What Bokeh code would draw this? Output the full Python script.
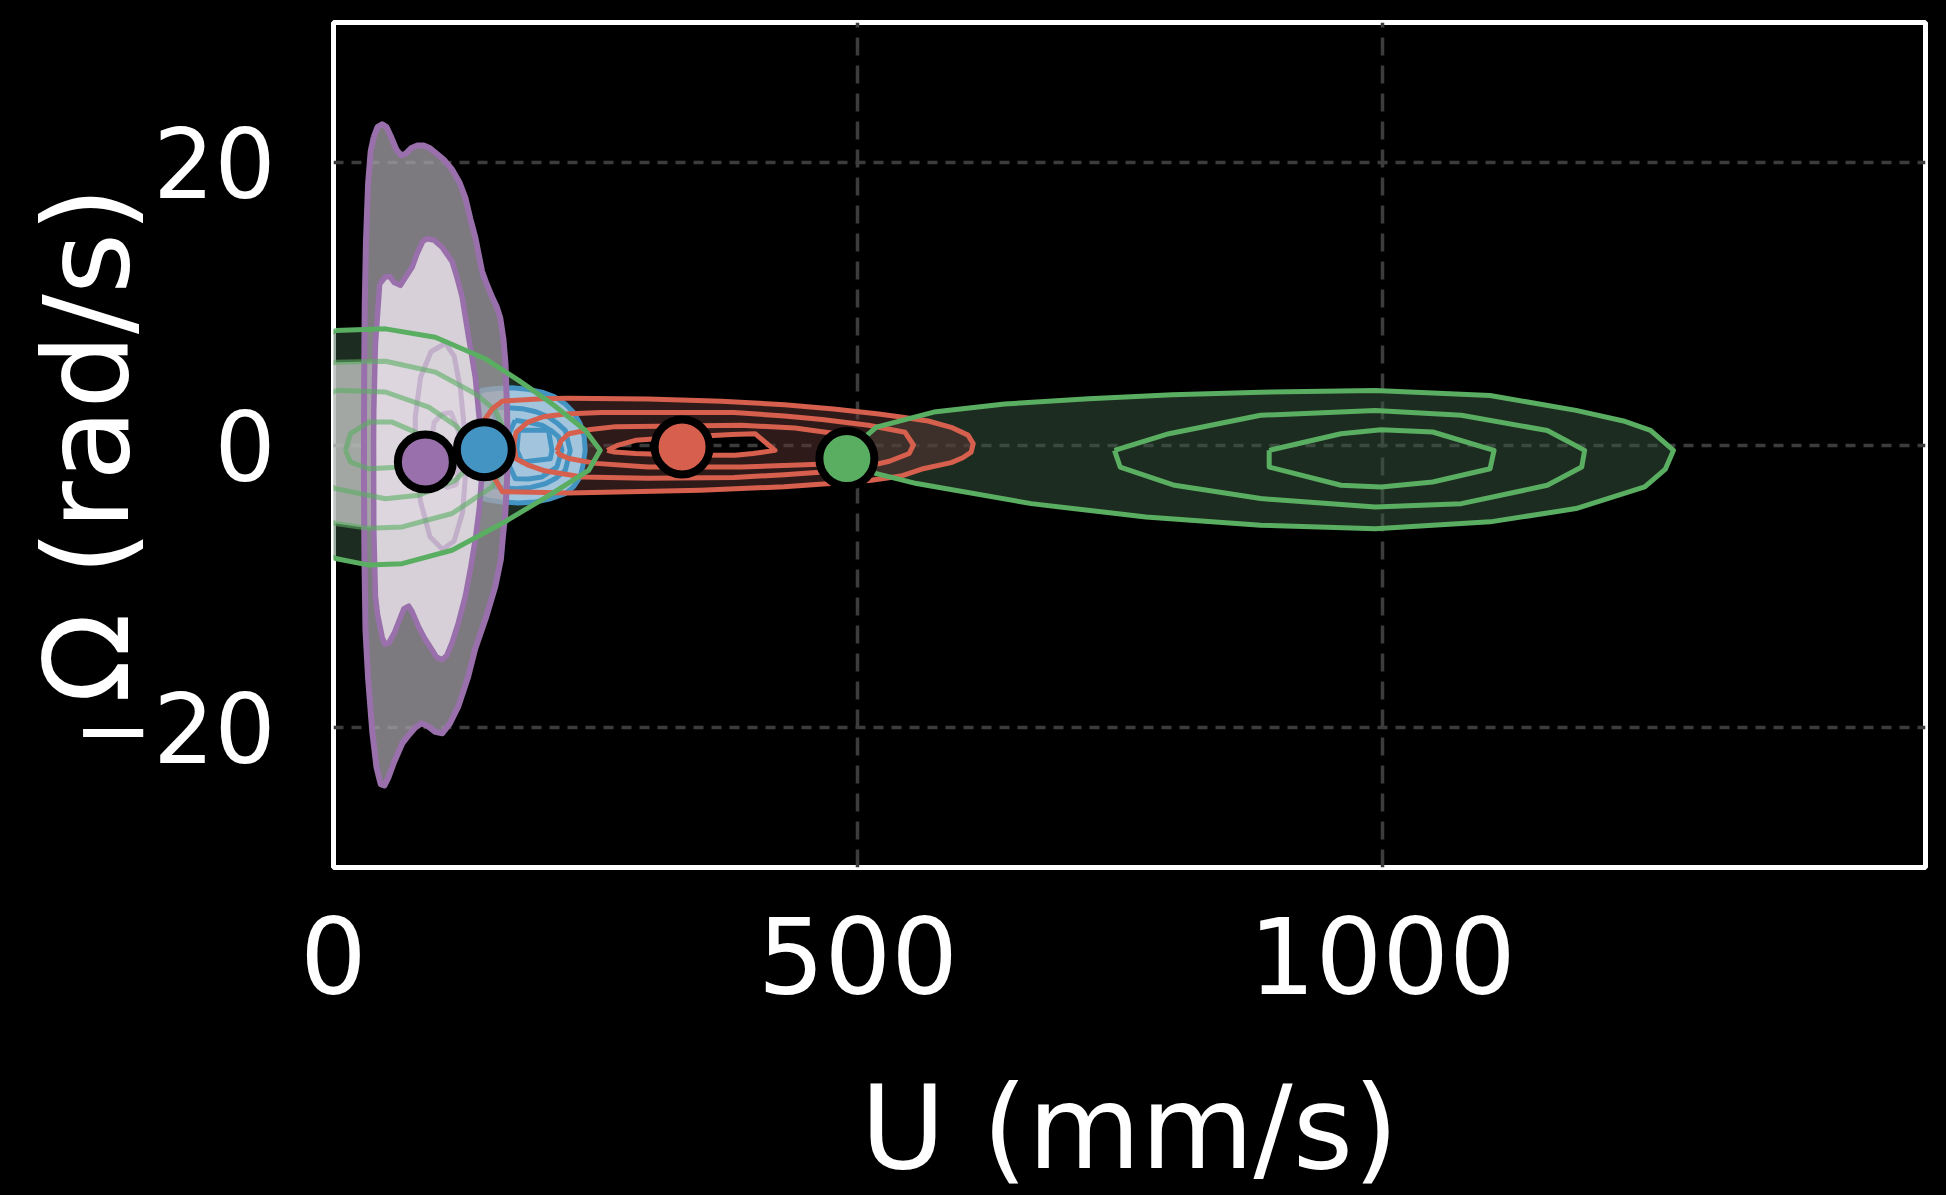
from bokeh.plotting import figure
from bokeh.models import Range1d, FixedTicker
from bokeh.embed import file_html
from bokeh.resources import INLINE

# ---------------- data (U in mm/s, Omega in rad/s) ----------------
x_ticks = [0, 500, 1000]
y_ticks = [-20, 0, 20]
y_tick_labels = {-20: "\u221220", 0: "0", 20: "20"}

# purple group: KDE contour levels
purple_outer_u = [38.4, 42, 46.4, 50.5, 54.3, 60, 64.5, 68.6, 74, 80, 86, 92, 97, 105, 113, 120, 125.7, 130.5, 135.2, 141.6,
                  146, 151, 155.5, 159, 162, 164, 165.5, 166, 165.5, 163.8, 161.5, 159.6, 154.3, 145, 135.2, 128, 119, 111,
                  103.8, 97, 90, 84, 78, 72, 65.7, 58, 52, 48.5, 45, 41, 37, 33, 30.5, 29.5, 29, 29.2, 29.8, 31, 33, 35.5]
purple_outer_omega = [21.8, 22.5, 22.7, 22.5, 21.9, 20.9, 20.5, 20.6, 21.0, 21.2, 21.2, 21.0, 20.7, 20.2, 19.5, 18.6, 17.5,
                      16.0, 14.7, 12.3, 11.4, 10.5, 9.8, 9.0, 7.5, 5.75, 2.5, -0.3, -2.5, -4.85, -6.5, -8.1, -10.0, -12.3,
                      -14.4, -16.5, -18.5, -19.7, -20.4, -20.3, -19.9, -19.7, -20.0, -20.5, -21.1, -22.4, -23.6, -24.1,
                      -24.0, -22.8, -20.3, -16.5, -13.1, -8, -2, 4, 10, 14.5, 18.5, 20.8]
purple_inner_u = [44, 49.5, 54, 58, 63.8, 69, 75, 80, 85, 89.2, 96, 103.5, 113, 118, 122.6, 128.9, 135.2, 139.5, 141.6, 139,
                  135.2, 131, 125.7, 119, 113, 108, 103.5, 98, 94, 87, 81.3, 75, 71.7, 67, 63.8, 58, 52.7, 49, 46.4, 42,
                  40, 38.4, 38.2, 38.4, 40, 43.2]
purple_inner_omega = [11.4, 11.9, 11.9, 11.5, 11.3, 11.9, 12.6, 13.6, 14.4, 14.6, 14.5, 14.0, 13.0, 11.8, 10.5, 7.6, 4.8,
                      1.5, -2.0, -4.5, -6.7, -8.6, -10.7, -12.6, -14.0, -14.9, -15.2, -15.0, -14.5, -13.7, -12.9, -11.8,
                      -11.4, -11.6, -12.2, -13.3, -14.0, -14.1, -13.6, -12.0, -10.7, -6.0, 0.0, 2.45, 7.2, 10.5]
purple_core_u = [106.7, 115, 121, 125, 126, 123, 115, 104, 92, 83, 78, 78, 83, 93]
purple_core_omega = [7.2, 6.3, 4.0, 1.0, -2.0, -4.8, -6.8, -7.4, -6.5, -4.0, -1.0, 2.0, 4.8, 6.6]
purple_peak_u = [103.5, 112, 119, 121, 117, 108, 98, 93, 96]
purple_peak_omega = [2.2, 2.3, 1.0, -1.0, -2.8, -3.0, -2.0, 0.0, 1.6]

# blue group
blue_l1_u = [136.8, 141.6, 155, 170.2, 185, 198.7, 211, 221, 229, 235.2, 239, 240, 238, 235.2, 229, 221, 207, 192.4, 176,
             160.6, 148, 138.4, 135.2, 134.5, 135.2]
blue_l1_omega = [3.4, 3.87, 4.0, 4.05, 3.95, 3.74, 3.4, 2.9, 2.3, 1.5, 0.6, -0.38, -1.4, -2.26, -2.95, -3.44, -3.8, -4.03,
                 -4.1, -4.03, -3.9, -3.68, -1.8, 0.1, 1.98]
blue_l2_u = [151.1, 165, 179.7, 193, 205.1, 214, 221, 225.7, 221, 212, 201.9, 188, 173.3, 154.3, 160, 158]
blue_l2_omega = [2.68, 2.65, 2.57, 2.35, 1.98, 1.5, 1.03, -0.38, -1.8, -2.35, -2.74, -3.0, -3.09, -2.97, -1.0, 1.0]
blue_l3_u = [173.3, 186, 198.7, 208, 214.6, 217.8, 213, 198.7, 186, 173.3, 166, 166]
blue_l3_omega = [1.75, 1.6, 1.4, 1.0, 0.57, -0.38, -1.56, -2.26, -2.4, -2.38, -1.2, 0.6]
blue_l4_u = [176.5, 205, 208.3, 206.7, 179.7, 174.9]
blue_l4_omega = [1.04, 1.04, -0.38, -0.97, -1.2, -0.38]

# red group
red_l1_u = [132, 136, 140, 145, 152, 161, 199, 223, 300, 370, 430, 477, 520, 541, 567, 589, 605, 610, 608, 600, 589, 561,
            541, 513, 477, 430, 350, 224, 161, 154, 145, 137]
red_l1_omega = [0.0, 0.9, 1.4, 1.9, 2.6, 3.1, 3.28, 3.3, 3.25, 3.1, 2.85, 2.55, 2.2, 1.98, 1.7, 1.25, 0.7, 0.1, -0.5, -0.9,
                -1.25, -1.7, -2.2, -2.5, -2.7, -2.95, -3.2, -3.4, -3.3, -2.4, -1.7, -0.9]
red_l2_u = [172, 174, 185, 200, 221, 255, 382, 430, 466, 510, 545, 553, 549, 530, 513, 477, 430, 382, 300, 237, 200, 185, 174]
red_l2_omega = [0.0, 0.9, 1.6, 2.0, 2.2, 2.3, 2.3, 2.05, 1.8, 1.4, 0.9, 0.0, -0.6, -1.15, -1.44, -1.85, -2.1, -2.3, -2.35,
                -2.26, -1.8, -1.4, -0.97]
red_l3_u = [213, 217, 224.5, 245, 269, 389, 440, 480, 498, 495, 470, 389, 300, 250, 224.5, 216]
red_l3_omega = [-0.4, 0.3, 0.8, 1.1, 1.3, 1.4, 1.2, 0.8, 0.0, -0.9, -1.35, -1.56, -1.56, -1.3, -0.95, -0.7]
red_l4_u = [261, 270, 288, 330, 380, 402, 421, 400, 383, 330, 288, 268]
red_l4_omega = [-0.38, -0.05, 0.33, 0.55, 0.75, 0.8, -0.38, -0.6, -0.73, -0.7, -0.6, -0.5]

# green group (two lobes)
green_left_l1_u = [1.9, 49.5, 97.1, 144.8, 176.5, 208.3, 240, 254.3, 243.2, 208.3, 160.6, 113, 65.4, 33.7, 1.9, -30, -50, -55, -50, -30]
green_left_l1_omega = [8.1, 8.22, 7.63, 6.1, 4.57, 2.92, 1.04, -0.38, -1.8, -3.44, -5.56, -7.45, -8.4, -8.5, -8.03, -7.0, -3.0, 0.0, 3.0, 7.0]
green_left_l2_u = [1.9, 49.5, 97.1, 135.2, 154.3, 162, 165, 160, 151.1, 113, 65.4, 33.7, 1.9, -30, -40, -30]
green_left_l2_omega = [5.86, 5.93, 5.16, 3.63, 2.45, 1.2, -0.4, -1.8, -2.97, -4.85, -5.8, -5.9, -5.56, -4.5, 0.0, 5.0]
green_left_l3_u = [1.9, 49.5, 90.8, 116.2, 128, 135, 128, 116.2, 81.3, 49.5, 1.9, -25, -30, -25]
green_left_l3_omega = [3.87, 3.75, 2.68, 1.39, 0.5, -0.6, -1.6, -2.5, -3.56, -3.8, -3.09, -2.0, 0.0, 2.5]
green_left_l4_u = [11.4, 16.2, 33.7, 55.9, 78.1, 86, 65.4, 33.7, 16.2]
green_left_l4_omega = [-0.38, 0.8, 1.62, 1.62, 0.91, -0.6, -1.56, -1.68, -1.21]
green_right_l1_u = [490, 517.7, 572.4, 640, 720, 800, 884, 993.3, 1102.8, 1184.8, 1230, 1255.8, 1277.7, 1270, 1250.3,
                    1184.8, 1102.8, 993.3, 884, 774.7, 665.3, 556, 517.7]
green_right_l1_omega = [-0.5, 1.27, 2.33, 2.9, 3.27, 3.55, 3.74, 3.86, 3.5, 2.45, 1.7, 1.03, -0.38, -1.7, -2.97, -4.5,
                        -5.44, -5.92, -5.68, -5.09, -4.15, -2.73, -2.03]
green_right_l2_u = [744.7, 750.1, 802, 884, 993.3, 1075.4, 1157.4, 1190.2, 1193, 1157.4, 1075.4, 993.3, 884, 796.6]
green_right_l2_omega = [-0.38, -1.56, -2.85, -3.79, -4.38, -4.15, -2.85, -1.56, -0.38, 1.03, 2.1, 2.45, 2.1, 0.8]
green_right_l3_u = [892.2, 892.2, 960.6, 998.9, 1048.1, 1102.8, 1106.6, 1048.1, 998.9, 960.6]
green_right_l3_omega = [-0.38, -1.56, -2.85, -2.97, -2.62, -1.68, -0.38, 0.92, 1.08, 0.8]

# group means
mean_u = [87.6, 143.8, 332.4, 489.5]
mean_omega = [-1.2, -0.33, -0.14, -0.96]

# ---------------- styles ----------------
PURPLE, BLUE, RED, GREEN = "#9970ab", "#4393c3", "#d6604d", "#5aae61"
dot_colors = [PURPLE, BLUE, RED, GREEN]
FONT = "DejaVu Sans"
LW = 5


def closed(seq):
    return list(seq) + [seq[0]]


p = figure(frame_width=1592, frame_height=845,
           x_range=Range1d(0, 1518), y_range=Range1d(-29.9, 29.9),
           output_backend="svg", toolbar_location=None, title=None,
           min_border_left=333, min_border_top=22, min_border_right=13, min_border_bottom=300,
           background_fill_color="black", border_fill_color="black",
           outline_line_color="white", outline_line_width=5)

# grid
p.xgrid.ticker = FixedTicker(ticks=x_ticks)
p.ygrid.ticker = FixedTicker(ticks=y_ticks)
for g in (p.xgrid, p.ygrid):
    g.grid_line_color = "#3c3c3c"
    g.grid_line_width = 3.5
p.xgrid.grid_line_dash = "18 10"
p.ygrid.grid_line_dash = "10 8"

# axes
p.xaxis.ticker = FixedTicker(ticks=x_ticks)
p.yaxis.ticker = FixedTicker(ticks=y_ticks)
p.yaxis.major_label_overrides = y_tick_labels
for ax in (p.xaxis, p.yaxis):
    ax.axis_line_color = None
    ax.major_tick_line_color = None
    ax.minor_tick_line_color = None
    ax.major_tick_out = 0
    ax.major_tick_in = 0
    ax.major_label_text_color = "white"
    ax.major_label_text_font = FONT
    ax.axis_label_text_color = "white"
    ax.axis_label_text_font = FONT
    ax.axis_label_text_font_style = "normal"
p.xaxis.axis_label = "U (mm/s)"
p.yaxis.axis_label = "\u03a9 (rad/s)"
p.xaxis.major_label_text_font_size = "105px"
p.yaxis.major_label_text_font_size = "96px"
p.xaxis.axis_label_text_font_size = "116px"
p.yaxis.axis_label_text_font_size = "118px"
p.xaxis.major_label_standoff = 49
p.yaxis.major_label_standoff = 58
p.xaxis.axis_label_standoff = 63
p.yaxis.axis_label_standoff = -86

# 1. green filled regions
p.patch(green_left_l1_u, green_left_l1_omega, fill_color="#3a573f", fill_alpha=0.5, line_color=None)
p.patch(green_right_l1_u, green_right_l1_omega, fill_color="#3a573f", fill_alpha=0.5, line_color=None)
p.patch(green_left_l2_u, green_left_l2_omega, fill_color="#d0d0d0", fill_alpha=0.75, line_color=None)

# 2. red fill with inner hole
p.multi_polygons(xs=[[[red_l1_u, red_l4_u]]], ys=[[[red_l1_omega, red_l4_omega]]],
                 fill_color="#5e3434", fill_alpha=0.5, line_color=None)

# 3. blue
p.patch(blue_l1_u, blue_l1_omega, fill_color="#a5cae3", fill_alpha=0.97, line_color=BLUE, line_width=LW, line_join="round")
for bu, bo in ((blue_l2_u, blue_l2_omega), (blue_l3_u, blue_l3_omega), (blue_l4_u, blue_l4_omega)):
    p.line(closed(bu), closed(bo), line_color=BLUE, line_width=LW, line_join="round")

# 4. purple
p.patch(purple_outer_u, purple_outer_omega, fill_color="#a7a3a9", fill_alpha=0.75, line_color=None)
p.patch(purple_inner_u, purple_inner_omega, fill_color="#e6dfe7", fill_alpha=0.85, line_color=None)
p.line(closed(purple_core_u), closed(purple_core_omega), line_color=PURPLE, line_alpha=0.35, line_width=LW)
p.line(closed(purple_peak_u), closed(purple_peak_omega), line_color=PURPLE, line_alpha=0.3, line_width=LW)
p.line(closed(purple_outer_u), closed(purple_outer_omega), line_color=PURPLE, line_width=6, line_join="round")
p.line(closed(purple_inner_u), closed(purple_inner_omega), line_color=PURPLE, line_width=5.5, line_join="round")

# 5. green inner lines of left lobe (pale)
for gu, go in ((green_left_l2_u, green_left_l2_omega), (green_left_l3_u, green_left_l3_omega),
               (green_left_l4_u, green_left_l4_omega)):
    p.line(closed(gu), closed(go), line_color=GREEN, line_alpha=0.6, line_width=LW, line_join="round")

# 6. red lines
for ru, ro in ((red_l1_u, red_l1_omega), (red_l2_u, red_l2_omega), (red_l3_u, red_l3_omega), (red_l4_u, red_l4_omega)):
    p.line(closed(ru), closed(ro), line_color=RED, line_width=LW, line_join="round")

# 7. green lines
for gu, go in ((green_left_l1_u, green_left_l1_omega), (green_right_l1_u, green_right_l1_omega),
               (green_right_l2_u, green_right_l2_omega), (green_right_l3_u, green_right_l3_omega)):
    p.line(closed(gu), closed(go), line_color=GREEN, line_width=LW, line_join="round")

# 8. means
p.scatter(mean_u, mean_omega, size=55, fill_color=dot_colors, line_color="black", line_width=8)

html = file_html(p, INLINE, title="U vs Omega")
html = html.replace("<head>", "<head><style>html,body{background:#000000;overflow:hidden;}</style>", 1)
with open("out.html", "w") as f:
    f.write(html)
